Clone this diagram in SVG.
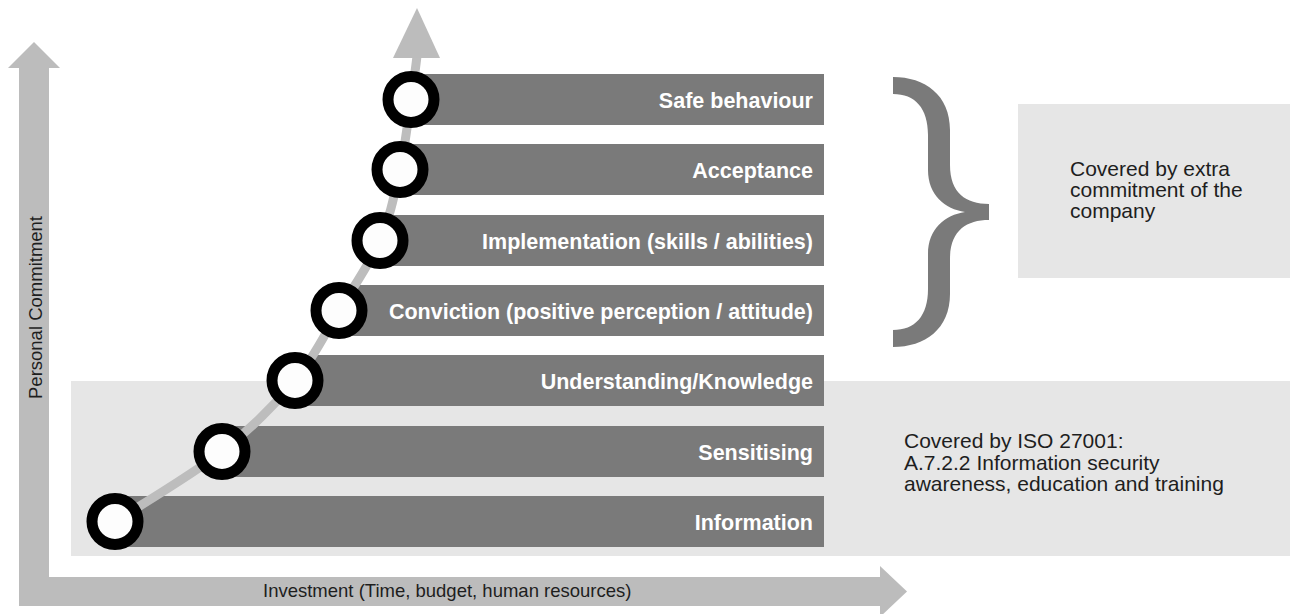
<svg xmlns="http://www.w3.org/2000/svg" width="1290" height="614" viewBox="0 0 1290 614">
<style>
.axis{fill:#bcbcbc}
.zone{fill:#e6e6e6}
.bar{fill:#7a7a7a}
.lbl{font-family:"Liberation Sans",Arial,sans-serif;font-weight:bold;font-size:21.5px;fill:#ffffff;text-anchor:end}
.note{font-family:"Liberation Sans",Arial,sans-serif;font-size:21px;fill:#1e1e1e}
.ax{font-family:"Liberation Sans",Arial,sans-serif;font-size:18.5px;fill:#1e1e1e}
.ring{fill:#fdfdfd;stroke:#000;stroke-width:11}
</style>
<rect width="1290" height="614" fill="#ffffff"/>
<g id="zones">
<rect class="zone" x="71" y="381" width="1219" height="175"/>
<rect class="zone" x="1018" y="104" width="272" height="174"/>
</g>
<g id="axes">
<rect class="axis" x="19" y="66" width="30" height="540"/>
<polygon class="axis" points="34,42 8,68 60,68"/>
<rect class="axis" x="19" y="577" width="863" height="29"/>
<polygon class="axis" points="880,566 907,591.5 880,617"/>
<text class="ax" transform="translate(42,399) rotate(-90)">Personal Commitment</text>
<text class="ax" x="263" y="597">Investment (Time, budget, human resources)</text>
</g>
<g id="bars">
<g id="b-safe"><rect class="bar" x="411" y="74" width="413" height="51"/><text class="lbl" x="813" y="107.5">Safe behaviour</text></g>
<g id="b-accept"><rect class="bar" x="400" y="144" width="424" height="51"/><text class="lbl" x="813" y="177.5">Acceptance</text></g>
<g id="b-impl"><rect class="bar" x="380" y="215" width="444" height="51"/><text class="lbl" x="813" y="248.5">Implementation (skills / abilities)</text></g>
<g id="b-conv"><rect class="bar" x="339" y="285" width="485" height="51"/><text class="lbl" x="813" y="318.5">Conviction (positive perception / attitude)</text></g>
<g id="b-under"><rect class="bar" x="295" y="355" width="529" height="51"/><text class="lbl" x="813" y="388.5">Understanding/Knowledge</text></g>
<g id="b-sens"><rect class="bar" x="222" y="426" width="602" height="51"/><text class="lbl" x="813" y="459.5">Sensitising</text></g>
<g id="b-info"><rect class="bar" x="115" y="496" width="709" height="51"/><text class="lbl" x="813" y="529.5">Information</text></g>
</g>
<g id="connectors">
<path d="M115,521.5 C132.8,509.8 192,475 222,451.5 C252,428 275.5,404 295,380.5 C314.5,357 324.8,333.8 339,310.5 C353.2,287.2 369.8,264 380,240.5 C390.2,217 394.8,193 400,169.5 C405.2,146 408.2,118.1 411,99.5 C413.8,80.9 416,64.9 417,56" fill="none" stroke="#bdbdbd" stroke-width="9"/>
<polygon class="axis" points="417,8 393,58 440,58"/>
</g>
<g id="steps">
<circle class="ring" cx="411" cy="99.5" r="23"/>
<circle class="ring" cx="400" cy="169.5" r="23"/>
<circle class="ring" cx="380" cy="240.5" r="23"/>
<circle class="ring" cx="339" cy="310.5" r="23"/>
<circle class="ring" cx="295" cy="380.5" r="23"/>
<circle class="ring" cx="222" cy="451.5" r="23"/>
<circle class="ring" cx="115" cy="521.5" r="23"/>
</g>
<g id="brace">
<path fill="#7a7a7a" d="M989,204 C966,204 950,193 950,165 L950,130 C950,95 925,77 893,77 L893,94 C915,94 928,108 928,135 L928,170 C928,195 945,209 965,212 C945,215 928,229 928,254 L928,289 C928,316 915,330 893,330 L893,347 C925,347 950,329 950,294 L950,259 C950,231 966,220 989,220 Z"/>
</g>
<g id="note-company">
<text class="note" x="1070" y="176">Covered by extra</text>
<text class="note" x="1070" y="197">commitment of the</text>
<text class="note" x="1070" y="218">company</text>
</g>
<g id="note-iso">
<text class="note" x="904" y="448">Covered by ISO 27001:</text>
<text class="note" x="904" y="469.5">A.7.2.2 Information security</text>
<text class="note" x="904" y="491">awareness, education and training</text>
</g>
</svg>
